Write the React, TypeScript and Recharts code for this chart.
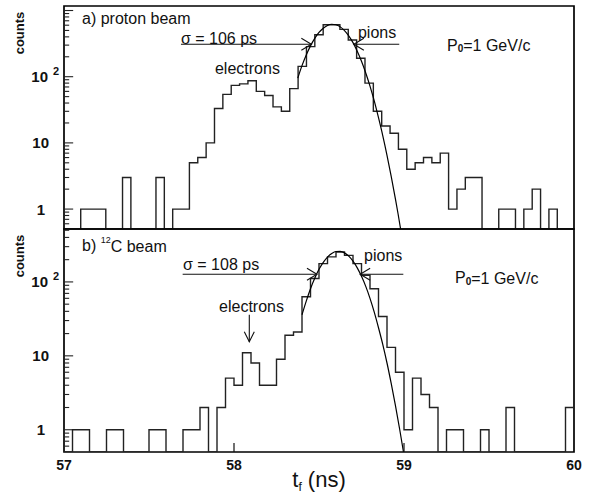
import React from "react";
import {
  ComposedChart,
  Line,
  Scatter,
  XAxis,
  YAxis,
  ReferenceArea,
  ReferenceLine,
  ReferenceDot,
} from "recharts";

const FONT = '"Liberation Sans", Arial, Helvetica, sans-serif';
const INK = "#111";

// ---------- shared axis data ----------
const X_DOMAIN: [number, number] = [57, 60];
const X_TICKS = [57, 58, 59, 60];
const Y_TICK_CANDIDATES = [
  0.6, 0.7, 0.8, 0.9, 1, 2, 3, 4, 5, 6, 7, 8, 9, 10, 20, 30, 40, 50, 60, 70, 80, 90,
  100, 200, 300, 400, 500, 600, 700, 800, 900, 1000,
];
const Y_TITLE = "counts";

// ---------- panel a) proton beam ----------
const A_BIN_START = 57.0;
const A_BIN_WIDTH = 3 / 61;
const A_COUNTS = [
  0, 0, 1, 1, 1, 0, 0, 3, 0, 0,
  0, 3, 0, 1, 1, 5, 6, 10, 33, 54,
  74, 78, 87, 60, 52, 35, 30, 66, 143, 285,
  430, 610, 610, 518, 358, 190, 80, 30, 18, 14,
  8, 4, 5, 6, 5, 7, 1, 2, 3, 3,
  0, 0, 1, 1, 0, 1, 2, 0, 1, 0,
  0,
];
const A_FIT_X = [
  58.375, 58.4, 58.425, 58.45, 58.475, 58.5, 58.525, 58.55, 58.575, 58.6, 58.625, 58.65,
  58.675, 58.7, 58.725, 58.75, 58.775, 58.8, 58.825, 58.85, 58.875, 58.9, 58.925, 58.95,
  58.965, 58.98,
];
const A_FIT_Y = [
  95, 147, 213, 292, 379, 466, 541, 595, 620, 609, 566, 498,
  415, 327, 243, 171, 114, 72, 43, 24, 12.9, 6.5, 3.1, 1.4,
  0.85, 0.5,
];
const A_Y_DOMAIN: [number, number] = [0.5, 1170];
const A_HALF_MAX = 310;
const A_FWHM_LEFT = 58.455;
const A_FWHM_RIGHT = 58.705;

// ---------- panel b) 12C beam ----------
const B_BIN_START = 57.0;
const B_BIN_WIDTH = 0.05;
const B_COUNTS = [
  0, 1, 1, 0, 0, 1, 1, 0, 0, 0,
  1, 1, 0, 0, 1, 1, 2, 0, 2, 5,
  4, 11, 8, 4, 4, 9, 19, 21, 63, 111,
  177, 218, 254, 229, 177, 123, 81, 34, 13, 6,
  1, 5, 3, 2, 0, 1, 1, 0, 0, 1,
  0, 0, 2, 0, 0, 0, 0, 0, 0, 2,
];
const B_FIT_X = [
  58.4, 58.425, 58.45, 58.475, 58.5, 58.525, 58.55, 58.575, 58.6, 58.625, 58.65, 58.675,
  58.7, 58.725, 58.75, 58.775, 58.8, 58.825, 58.85, 58.875, 58.9, 58.925, 58.95, 58.975,
  58.997,
];
const B_FIT_Y = [
  36, 55, 81, 112, 148, 184, 217, 243, 258, 259, 247, 223,
  191, 155, 119, 87, 60, 39, 24, 14.3, 8, 4.2, 2.1, 1.0,
  0.5,
];
const B_Y_DOMAIN: [number, number] = [0.5, 520];
const B_HALF_MAX = 127;
const B_FWHM_LEFT = 58.488;
const B_FWHM_RIGHT = 58.742;

// ---------- helpers ----------
function histRows(start: number, width: number, counts: number[], floor: number) {
  const rows = counts.map((c, i) => ({ x: start + i * width, y: c > 0 ? c : floor }));
  const last = counts[counts.length - 1];
  rows.push({ x: start + counts.length * width, y: last > 0 ? last : floor });
  return rows;
}
function fitRows(xs: number[], ys: number[]) {
  return xs.map((x, i) => ({ x, y: ys[i] }));
}
function isDecade(v: number) {
  const lg = Math.log10(v);
  return Math.abs(lg - Math.round(lg)) < 1e-9;
}

const YTick = (props: any) => {
  const { x, y, payload } = props;
  const px = Number(x);
  const py = Number(y);
  const v = Number(payload.value);
  const common = {
    fontFamily: FONT,
    fontSize: 15,
    fontWeight: 700,
    fill: INK,
    dominantBaseline: "central" as const,
  };
  if (v === 1)
    return (
      <text x={px - 19} y={py} textAnchor="end" {...common}>
        1
      </text>
    );
  if (v === 10)
    return (
      <text x={px - 15} y={py} textAnchor="end" {...common}>
        10
      </text>
    );
  if (v === 100)
    return (
      <g>
        <text x={px - 16} y={py} textAnchor="end" {...common}>
          10
        </text>
        <text x={px - 11} y={py - 6} textAnchor="start" {...common} fontSize={11}>
          2
        </text>
      </g>
    );
  return <g />;
};

// inward tick marks drawn at each y tick position on the left frame
const tickShape = (len: number) => (p: any) => {
  const cx = Number(p.cx);
  const cy = Number(p.cy);
  if (!isFinite(cx) || !isFinite(cy)) return <g />;
  return (
    <line x1={cx} x2={cx + len} y1={cy} y2={cy} stroke="#222" strokeWidth={1.1} />
  );
};
const majorTick = tickShape(9);
const minorTick = tickShape(5);

const XTick = (props: any) => {
  const { x, y, payload } = props;
  const v = Number(payload.value);
  const inner = v > X_DOMAIN[0] && v < X_DOMAIN[1];
  return (
    <g>
      {inner && <line x1={x} x2={x} y1={y} y2={y - 9} stroke={INK} strokeWidth={1.2} />}
      <text
        x={x}
        y={y + 13}
        textAnchor="middle"
        dominantBaseline="central"
        fontFamily={FONT}
        fontSize={14}
        fontWeight={700}
        fill={INK}
      >
        {v}
      </text>
    </g>
  );
};

const yTitle = (p: any) => {
  const vb = p.viewBox || { x: 0, y: 0 };
  const cx = 19;
  const cy = vb.y + 27;
  return (
    <text
      x={cx}
      y={cy}
      transform={`rotate(-90, ${cx}, ${cy})`}
      textAnchor="middle"
      dominantBaseline="central"
      fontFamily={FONT}
      fontSize={13}
      fontWeight={700}
      fill={INK}
    >
      {Y_TITLE}
    </text>
  );
};

const xTitle = (p: any) => {
  const vb = p.viewBox || { x: 64, y: 452, width: 510 };
  return (
    <text
      x={vb.x + vb.width / 2}
      y={vb.y + 35}
      textAnchor="middle"
      fontFamily={FONT}
      fontSize={22}
      fill={INK}
    >
      t
      <tspan fontSize={12} dy={4}>
        f
      </tspan>
      <tspan dy={-4}> (ns)</tspan>
    </text>
  );
};

const textShape = (content: React.ReactNode, size = 16) => (p: any) => (
  <text
    x={p.cx}
    y={p.cy}
    dominantBaseline="central"
    fontFamily={FONT}
    fontSize={size}
    fill={INK}
  >
    {content}
  </text>
);

const arrowRight = (p: any) => (
  <path
    d={`M${p.cx - 10},${p.cy - 6} L${p.cx},${p.cy} L${p.cx - 10},${p.cy + 6}`}
    fill="none"
    stroke={INK}
    strokeWidth={1.1}
  />
);
const arrowLeft = (p: any) => (
  <path
    d={`M${p.cx + 10},${p.cy - 6} L${p.cx},${p.cy} L${p.cx + 10},${p.cy + 6}`}
    fill="none"
    stroke={INK}
    strokeWidth={1.1}
  />
);
const arrowDown = (p: any) => (
  <path
    d={`M${p.cx - 5},${p.cy - 10} L${p.cx},${p.cy} L${p.cx + 5},${p.cy - 10}`}
    fill="none"
    stroke={INK}
    strokeWidth={1.1}
  />
);

const pLabel = (
  <>
    P<tspan fontSize={10} fontWeight={700} dy={3}>0</tspan>
    <tspan dy={-3}>=1 GeV/c</tspan>
  </>
);

type PanelProps = {
  height: number;
  margin: { top: number; right: number; bottom: number; left: number };
  yDomain: [number, number];
  hist: { x: number; y: number }[];
  fit: { x: number; y: number }[];
  showX: boolean;
  children?: React.ReactNode;
};

function Panel({ height, margin, yDomain, hist, fit, showX, children }: PanelProps) {
  const yTicks = Y_TICK_CANDIDATES.filter((t) => t > yDomain[0] && t <= yDomain[1]);
  const majorRows = yTicks.filter(isDecade).map((t) => ({ x: X_DOMAIN[0] + 0.001, y: t }));
  const minorRows = yTicks
    .filter((t) => !isDecade(t))
    .map((t) => ({ x: X_DOMAIN[0] + 0.001, y: t }));
  return (
    <ComposedChart width={596} height={height} margin={margin}>
      <XAxis
        dataKey="x"
        type="number"
        domain={X_DOMAIN}
        allowDataOverflow
        ticks={X_TICKS}
        interval={0}
        hide={!showX}
        height={showX ? 44 : 0}
        axisLine={false}
        tickLine={false}
        tickSize={0}
        tickMargin={0}
        tick={<XTick />}
        label={showX ? xTitle : undefined}
      />
      <YAxis
        type="number"
        scale="log"
        domain={yDomain}
        allowDataOverflow
        ticks={yTicks}
        interval={0}
        width={64}
        axisLine={false}
        tickLine={false}
        tickSize={0}
        tickMargin={0}
        tick={<YTick />}
        label={yTitle}
      />
      <ReferenceArea
        x1={X_DOMAIN[0]}
        x2={X_DOMAIN[1]}
        y1={yDomain[0]}
        y2={yDomain[1]}
        fill="none"
        fillOpacity={0}
        stroke="#000"
        strokeWidth={1.7}
        ifOverflow="visible"
      />
      <Scatter data={majorRows} dataKey="y" shape={majorTick} isAnimationActive={false} />
      <Scatter data={minorRows} dataKey="y" shape={minorTick} isAnimationActive={false} />
      <Line
        data={hist}
        dataKey="y"
        type="stepAfter"
        stroke="#222"
        strokeWidth={1.4}
        dot={false}
        isAnimationActive={false}
      />
      <Line
        data={fit}
        dataKey="y"
        type="monotone"
        stroke="#000"
        strokeWidth={1.2}
        dot={false}
        isAnimationActive={false}
      />
      {children}
    </ComposedChart>
  );
}

export default function App() {
  const histA = histRows(A_BIN_START, A_BIN_WIDTH, A_COUNTS, A_Y_DOMAIN[0]);
  const histB = histRows(B_BIN_START, B_BIN_WIDTH, B_COUNTS, B_Y_DOMAIN[0]);
  const fitA = fitRows(A_FIT_X, A_FIT_Y);
  const fitB = fitRows(B_FIT_X, B_FIT_Y);
  const seg = { stroke: INK, strokeWidth: 1.1 };

  return (
    <div
      style={{
        position: "absolute",
        left: 0,
        top: 0,
        width: 596,
        height: 496,
        background: "#fff",
        overflow: "hidden",
      }}
    >
      <div style={{ position: "absolute", left: 0, top: 0 }}>
        <Panel
          height={240}
          margin={{ top: 6, right: 22, bottom: 11, left: 0 }}
          yDomain={A_Y_DOMAIN}
          hist={histA}
          fit={fitA}
          showX={false}
        >
          <ReferenceLine segment={[{ x: 57.688, y: A_HALF_MAX }, { x: A_FWHM_LEFT, y: A_HALF_MAX }]} {...seg} />
          <ReferenceLine segment={[{ x: A_FWHM_RIGHT, y: A_HALF_MAX }, { x: 58.972, y: A_HALF_MAX }]} {...seg} />
          <ReferenceDot x={A_FWHM_LEFT} y={A_HALF_MAX} shape={arrowRight} />
          <ReferenceDot x={A_FWHM_RIGHT} y={A_HALF_MAX} shape={arrowLeft} />
          <ReferenceDot x={57.106} y={768} shape={textShape("a) proton beam")} />
          <ReferenceDot x={57.688} y={377} shape={textShape("σ = 106 ps")} />
          <ReferenceDot x={57.888} y={131} shape={textShape("electrons")} />
          <ReferenceDot x={58.729} y={472} shape={textShape("pions")} />
          <ReferenceDot x={59.253} y={301} shape={textShape(pLabel)} />
        </Panel>
      </div>
      <div style={{ position: "absolute", left: 0, top: 0 }}>
        <Panel
          height={496}
          margin={{ top: 229, right: 22, bottom: 0, left: 0 }}
          yDomain={B_Y_DOMAIN}
          hist={histB}
          fit={fitB}
          showX={true}
        >
          <ReferenceLine segment={[{ x: 57.698, y: B_HALF_MAX }, { x: B_FWHM_LEFT, y: B_HALF_MAX }]} {...seg} />
          <ReferenceLine segment={[{ x: B_FWHM_RIGHT, y: B_HALF_MAX }, { x: 58.996, y: B_HALF_MAX }]} {...seg} />
          <ReferenceDot x={B_FWHM_LEFT} y={B_HALF_MAX} shape={arrowRight} />
          <ReferenceDot x={B_FWHM_RIGHT} y={B_HALF_MAX} shape={arrowLeft} />
          <ReferenceLine segment={[{ x: 58.09, y: 36 }, { x: 58.09, y: 15.5 }]} {...seg} />
          <ReferenceDot x={58.09} y={15.5} shape={arrowDown} />
          <ReferenceDot
            x={57.106}
            y={310}
            shape={textShape(
              <>
                b){" "}
                <tspan fontSize={9} dy={-6}>
                  12
                </tspan>
                <tspan dy={6}>C beam</tspan>
              </>
            )}
          />
          <ReferenceDot x={57.7} y={170} shape={textShape("σ = 108 ps")} />
          <ReferenceDot x={57.912} y={46} shape={textShape("electrons")} />
          <ReferenceDot x={58.765} y={225} shape={textShape("pions")} />
          <ReferenceDot x={59.3} y={113} shape={textShape(pLabel)} />
        </Panel>
      </div>
    </div>
  );
}
